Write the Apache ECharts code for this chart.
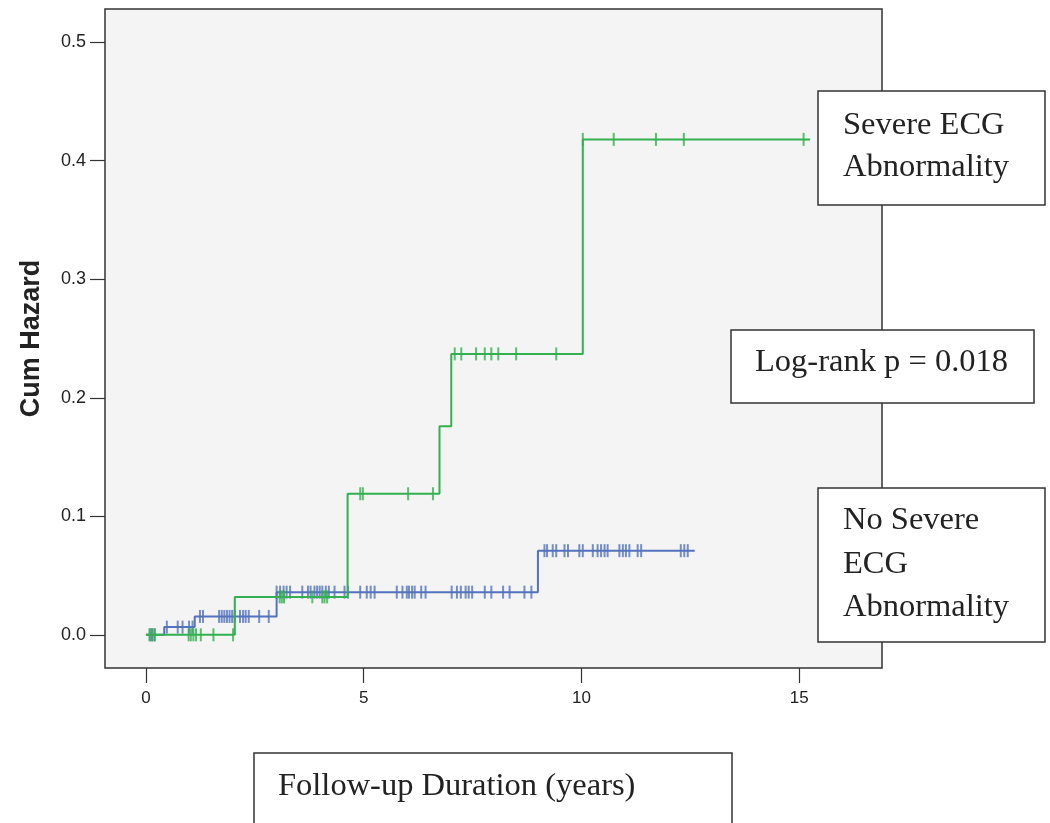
<!DOCTYPE html>
<html>
<head>
<meta charset="utf-8">
<script src="https://cdn.jsdelivr.net/npm/echarts@6/dist/echarts.min.js"></script>
<style>
html,body{margin:0;padding:0;background:#fff;}
#chart{width:1050px;height:823px;}
</style>
</head>
<body>
<div id="chart"></div>
<script>
// ---- data ----
var xTicks = [0, 5, 10, 15];
var yTicks = [0, 0.1, 0.2, 0.3, 0.4, 0.5];

// Severe ECG abnormality (green): step times and cumulative hazard after each step
var severeStepTimes  = [0, 2.04, 4.63, 6.74, 7.01, 10.03, 15.25];
var severeStepValues = [0, 0.032, 0.119, 0.176, 0.237, 0.418, 0.418];
var severeCensored = [0.08, 0.15, 0.2, 0.98, 1.03, 1.09, 1.15, 1.26, 1.55, 2.0,
  3.07, 3.12, 3.17, 3.82, 4.05, 4.1, 4.16,
  4.92, 4.98, 6.02, 6.59,
  7.09, 7.24, 7.58, 7.78, 7.93, 8.09, 8.5, 9.42,
  10.03, 10.74, 11.71, 12.35, 15.1];

// No severe ECG abnormality (blue)
var noSevereStepTimes  = [0, 0.42, 1.12, 3.0, 9.0, 12.6];
var noSevereStepValues = [0, 0.0065, 0.0155, 0.036, 0.071, 0.071];
var noSevereCensored = [0.1, 0.14, 0.2,
  0.48, 0.73, 0.84, 0.99, 1.07,
  1.24, 1.31, 1.68, 1.74, 1.8, 1.86, 1.92, 1.98, 2.04, 2.16, 2.23, 2.29, 2.36, 2.6, 2.82,
  3.0, 3.08, 3.16, 3.23, 3.31, 3.59, 3.72, 3.78, 3.87, 3.93, 3.99, 4.05, 4.13, 4.2, 4.33,
  4.56, 4.64, 4.92, 5.07, 5.16, 5.25, 5.76, 5.89, 5.99, 6.04, 6.11, 6.17, 6.32, 6.42,
  7.02, 7.14, 7.23, 7.34, 7.41, 7.49, 7.78, 7.93, 8.2, 8.35, 8.69, 8.85,
  9.15, 9.21, 9.34, 9.42, 9.61, 9.69, 9.95, 10.03, 10.26, 10.37, 10.45, 10.53, 10.6,
  10.87, 10.95, 11.02, 11.1, 11.29, 11.37, 12.28, 12.36, 12.44];

var labelSevere = ['Severe ECG', 'Abnormality'];
var labelNoSevere = ['No Severe', 'ECG', 'Abnormality'];
var labelLogRank = 'Log-rank p = 0.018';
var xTitle = 'Follow-up Duration (years)';
var yTitle = 'Cum Hazard';

// ---- helpers ----
function stepData(times, values) {
  return times.map(function (t, i) { return [t, values[i]]; });
}
function levelAt(times, values, t) {
  var v = values[0];
  for (var i = 0; i < times.length; i++) { if (times[i] <= t + 1e-9) v = values[i]; }
  return v;
}
function censorData(cens, times, values) {
  return cens.map(function (t) { return [t, levelAt(times, values, t)]; });
}

var GREEN = '#33b04f';
var BLUE = '#5473bd';
var INK = '#333333';
var serif = '"Liberation Serif", "Times New Roman", serif';
var sans = '"Liberation Sans", Arial, Helvetica, sans-serif';

var chart = echarts.init(document.getElementById('chart'), null, {renderer: 'canvas'});

function box(x, y, w, h) {
  return {type: 'rect', z: 100, shape: {x: x, y: y, width: w, height: h},
    style: {fill: '#ffffff', stroke: INK, lineWidth: 1.5}};
}
function txt(x, y, s) {
  return {type: 'text', z: 101, x: x, y: y,
    style: {text: s, font: '32.5px ' + serif, fill: '#222', textVerticalAlign: 'middle'}};
}

var graphics = [
  box(818, 91, 227, 114),
  box(731, 330, 303, 73),
  box(818, 488, 227, 154),
  box(254, 753, 478, 90),
  txt(843, 125, labelSevere[0]),
  txt(843, 167, labelSevere[1]),
  txt(755, 362, labelLogRank),
  txt(843, 520, labelNoSevere[0]),
  txt(843, 564, labelNoSevere[1]),
  txt(843, 607, labelNoSevere[2]),
  txt(278, 786, xTitle)
];

var option = {
  animation: false,
  backgroundColor: '#ffffff',
  grid: {left: 105, right: 168, top: 9, bottom: 155, show: true,
    backgroundColor: '#f3f4f3', borderColor: INK, borderWidth: 1.5},
  xAxis: {
    type: 'value', min: -0.94, max: 16.9,
    splitLine: {show: false},
    axisLine: {show: false, onZero: false},
    axisTick: {show: true, length: 15, inside: false, customValues: xTicks,
      lineStyle: {color: INK, width: 1.2}},
    axisLabel: {customValues: xTicks, margin: 22, fontSize: 17, color: '#222', fontFamily: sans}
  },
  yAxis: {
    type: 'value', min: -0.028, max: 0.528,
    name: yTitle, nameLocation: 'middle', nameGap: 60, nameRotate: 90,
    nameTextStyle: {fontSize: 27, fontWeight: 'bold', color: '#222', fontFamily: sans},
    splitLine: {show: false},
    axisLine: {show: false, onZero: false},
    axisTick: {show: true, length: 15, inside: false, customValues: yTicks,
      lineStyle: {color: INK, width: 1.2}},
    axisLabel: {customValues: yTicks, margin: 19, fontSize: 18, color: '#222', fontFamily: sans,
      formatter: function (v) { return v.toFixed(1); }}
  },
  graphic: graphics,
  series: [
    {type: 'line', step: 'end', data: stepData(noSevereStepTimes, noSevereStepValues),
      showSymbol: false, symbol: 'none', lineStyle: {color: BLUE, width: 2}, z: 2},
    {type: 'scatter', data: censorData(noSevereCensored, noSevereStepTimes, noSevereStepValues),
      symbol: 'rect', symbolSize: [2, 13], itemStyle: {color: BLUE}, z: 3},
    {type: 'line', step: 'end', data: stepData(severeStepTimes, severeStepValues),
      showSymbol: false, symbol: 'none', lineStyle: {color: GREEN, width: 2}, z: 4},
    {type: 'scatter', data: censorData(severeCensored, severeStepTimes, severeStepValues),
      symbol: 'rect', symbolSize: [2, 13], itemStyle: {color: GREEN}, z: 5}
  ]
};
chart.setOption(option);
</script>
</body>
</html>
